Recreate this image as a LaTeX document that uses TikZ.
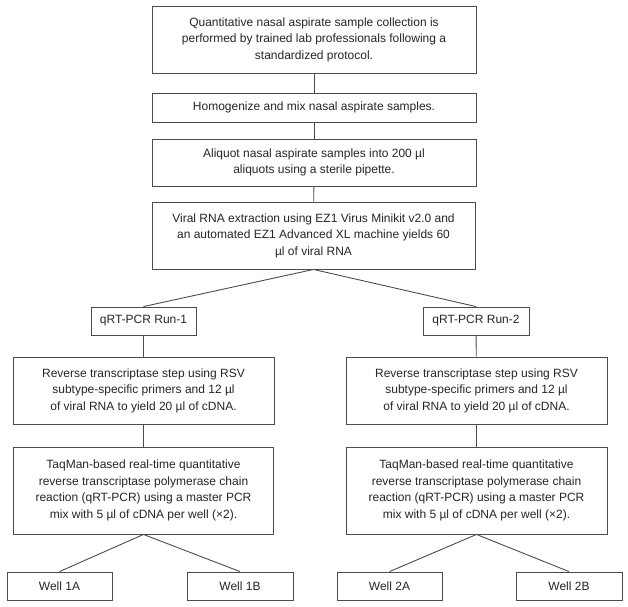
\documentclass[tikz,border=0pt]{standalone}
\usepackage{fontspec}
\setmainfont{Liberation Sans}
\begin{document}
\begin{tikzpicture}[x=1pt,y=-1pt,
  box/.style={draw=black!70,line width=0.9pt,fill=white,align=center,inner sep=0pt,
    font=\fontsize{12}{16.5}\selectfont,text=black!85},
  conn/.style={draw=black!70,line width=0.9pt}]
\useasboundingbox (0,0) rectangle (628,606);
\node[box,minimum width=324,minimum height=67] (b1) at (314,39.5)
  {Quantitative nasal aspirate sample collection is\\performed by trained lab professionals following a\\standardized protocol.};
\node[box,minimum width=324,minimum height=29] (b2) at (314,107.5)
  {Homogenize and mix nasal aspirate samples.};
\node[box,minimum width=324,minimum height=47] (b3) at (314,162.5)
  {Aliquot nasal aspirate samples into 200 µl\\aliquots using a sterile pipette.};
\node[box,minimum width=323,minimum height=67] (b4) at (313.5,235.5)
  {Viral RNA extraction using EZ1 Virus Minikit v2.0 and\\an automated EZ1 Advanced XL machine yields 60\\µl of viral RNA};
\node[box,minimum width=105,minimum height=28] (r1) at (143.5,321) {qRT-PCR Run-1};
\node[box,minimum width=106,minimum height=28] (r2) at (476,321) {qRT-PCR Run-2};
\node[box,minimum width=261,minimum height=67] (t1) at (143.5,390.5)
  {Reverse transcriptase step using RSV\\subtype-specific primers and 12 µl\\of viral RNA to yield 20 µl of cDNA.};
\node[box,minimum width=261,minimum height=67] (t2) at (476.5,390.5)
  {Reverse transcriptase step using RSV\\subtype-specific primers and 12 µl\\of viral RNA to yield 20 µl of cDNA.};
\node[box,minimum width=260,minimum height=87] (q1) at (143.5,490.5)
  {TaqMan-based real-time quantitative\\reverse transcriptase polymerase chain\\reaction (qRT-PCR) using a master PCR\\mix with 5 µl of cDNA per well (×2).};
\node[box,minimum width=261,minimum height=87] (q2) at (476.5,490.5)
  {TaqMan-based real-time quantitative\\reverse transcriptase polymerase chain\\reaction (qRT-PCR) using a master PCR\\mix with 5 µl of cDNA per well (×2).};
\node[box,minimum width=105,minimum height=28] (w1a) at (59.5,586) {Well 1A};
\node[box,minimum width=106,minimum height=28] (w1b) at (240,586) {Well 1B};
\node[box,minimum width=105,minimum height=28] (w2a) at (389.5,586) {Well 2A};
\node[box,minimum width=106,minimum height=28] (w2b) at (569,586) {Well 2B};
\draw[conn] (b1) -- (b2);
\draw[conn] (b2) -- (b3);
\draw[conn] (b3) -- (b4);
\draw[conn] (b4.south) -- (r1.north);
\draw[conn] (b4.south) -- (r2.north);
\draw[conn] (r1) -- (t1);
\draw[conn] (r2) -- (t2);
\draw[conn] (t1) -- (q1);
\draw[conn] (t2) -- (q2);
\draw[conn] (q1.south) -- (w1a.north);
\draw[conn] (q1.south) -- (w1b.north);
\draw[conn] (q2.south) -- (w2a.north);
\draw[conn] (q2.south) -- (w2b.north);
\end{tikzpicture}
\end{document}
